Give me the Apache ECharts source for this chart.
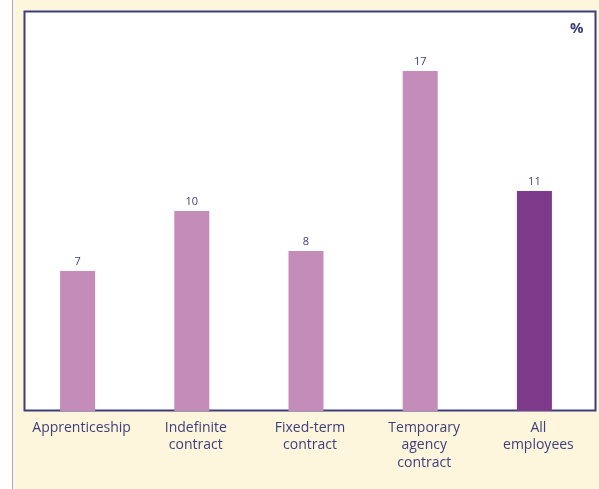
<!DOCTYPE html>
<html><head><meta charset="utf-8">
<script src="https://cdn.jsdelivr.net/npm/echarts@6/dist/echarts.min.js"></script>
<style>html,body{margin:0;padding:0;background:#fff}#c{width:599px;height:489px}</style>
</head><body><div id="c"></div>
<script>
const categories = ['Apprenticeship', 'Indefinite\ncontract', 'Fixed-term\ncontract', 'Temporary\nagency\ncontract', 'All\nemployees'];
const values = [7, 10, 8, 17, 11];
const highlight = [false, false, false, false, true];
const unitLabel = '%';

const navy = '#3d3f7c';
const chart = echarts.init(document.getElementById('c'), null, {renderer: 'canvas'});
chart.setOption({
  backgroundColor: '#fdf5dc',
  animation: false,
  textStyle: {fontFamily: 'Open Sans'},
  graphic: [
    {type: 'rect', shape: {x: 0, y: 0, width: 12, height: 489}, style: {fill: '#ffffff'}, z: 0},
    {type: 'line', shape: {x1: 12.5, y1: 0, x2: 12.5, y2: 489}, style: {stroke: '#a4a4dc', lineWidth: 1}, z: 1},
    {type: 'rect', shape: {x: 24.5, y: 11.5, width: 571, height: 399}, style: {fill: '#ffffff', stroke: navy, lineWidth: 2}, z: -1, silent: true},
    {type: 'text', left: 570, top: 21, style: {text: unitLabel, fill: navy, font: 'bold 15px "Open Sans"'}, z: 5}
  ],
  grid: {left: 20.5, width: 571, top: 11, bottom: 78},
  xAxis: {
    type: 'category', data: categories,
    axisLine: {show: false}, axisTick: {show: false},
    axisLabel: {color: navy, fontSize: 14, lineHeight: 17.5, margin: 8, interval: 0, padding: [0, 0, 0, 8], fontFamily: 'Open Sans'}
  },
  yAxis: {type: 'value', min: 0, max: 20, show: false, splitLine: {show: false}},
  series: [{
    type: 'bar', barWidth: 35,
    data: values.map((v, i) => ({value: v, itemStyle: {color: highlight[i] ? '#7d3a8a' : '#c38cb9'}})),
    label: {show: true, position: 'top', distance: 4, color: navy, fontSize: 11, fontFamily: 'Open Sans'}
  }]
});
</script></body></html>
